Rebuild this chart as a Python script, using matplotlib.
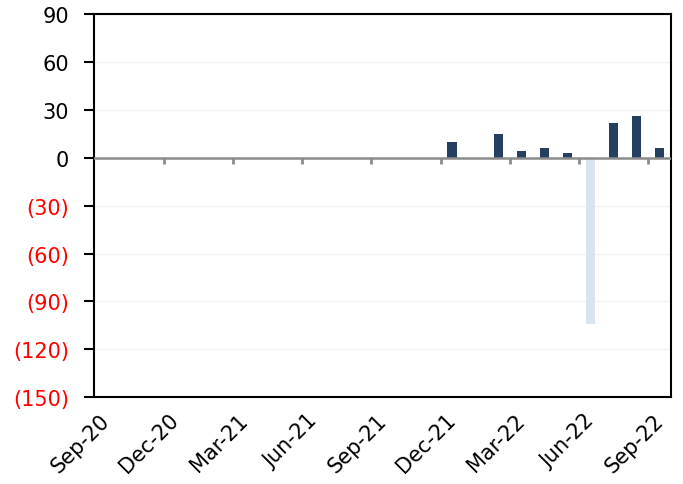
import matplotlib.pyplot as plt
import matplotlib.transforms as mtransforms
import numpy as np

months = ['Sep-20', 'Oct-20', 'Nov-20', 'Dec-20', 'Jan-21', 'Feb-21', 'Mar-21',
          'Apr-21', 'May-21', 'Jun-21', 'Jul-21', 'Aug-21', 'Sep-21', 'Oct-21',
          'Nov-21', 'Dec-21', 'Jan-22', 'Feb-22', 'Mar-22', 'Apr-22', 'May-22',
          'Jun-22', 'Jul-22', 'Aug-22', 'Sep-22']
values = [0, 0, 0, 0, 0, 0, 0,
          0, 0, 0, 0, 0, 0, 0,
          0, 10, 0, 15, 4, 6, 3,
          -104, 22, 26, 6]
tick_labels = ['Sep-20', 'Dec-20', 'Mar-21', 'Jun-21', 'Sep-21',
               'Dec-21', 'Mar-22', 'Jun-22', 'Sep-22']
y_ticks = [90, 60, 30, 0, -30, -60, -90, -120, -150]

pos_color = '#243f60'
neg_color = '#dae3f0'

fig = plt.figure(figsize=(6.83, 4.85), dpi=100)
ax = fig.add_axes([0.138, 0.179, 0.845, 0.79])

x = np.arange(len(months)) + 0.5
vals = np.array(values)
colors = [pos_color if v >= 0 else neg_color for v in vals]
ax.bar(x, vals, width=0.4, color=colors, zorder=3)

ax.set_xlim(0, len(months))
ax.set_ylim(-150, 90)
ax.set_yticks(y_ticks)
ylabels = [str(v) if v >= 0 else f'({-v})' for v in y_ticks]
ax.set_yticklabels(ylabels, fontsize=15)
for lbl, v in zip(ax.get_yticklabels(), y_ticks):
    lbl.set_color('black' if v >= 0 else 'red')
ax.tick_params(axis='y', length=7, width=1.5, direction='out', pad=11)
ax.grid(axis='y', color='#f3f3f3', linewidth=1, zorder=0)

tick_pos = [months.index(t) for t in tick_labels]
ax.set_xticks(tick_pos)
ax.set_xticklabels(tick_labels, fontsize=15, rotation=45, ha='right',
                   va='center', rotation_mode='anchor')
ax.tick_params(axis='x', length=0, pad=14)
shift = mtransforms.ScaledTranslation(12 / 100, 0, fig.dpi_scale_trans)
for lbl in ax.get_xticklabels():
    lbl.set_transform(lbl.get_transform() + shift)

for s in ax.spines.values():
    s.set_linewidth(1.5)
    s.set_color('black')

# zero line with small quarterly ticks hanging below it
ax.axhline(0, color='#8c8c8c', linewidth=1.8, zorder=4)
ax.vlines(tick_pos[1:], -4, 0, color='#8c8c8c', linewidth=2, zorder=4)

plt.savefig('out.png', dpi=100)
